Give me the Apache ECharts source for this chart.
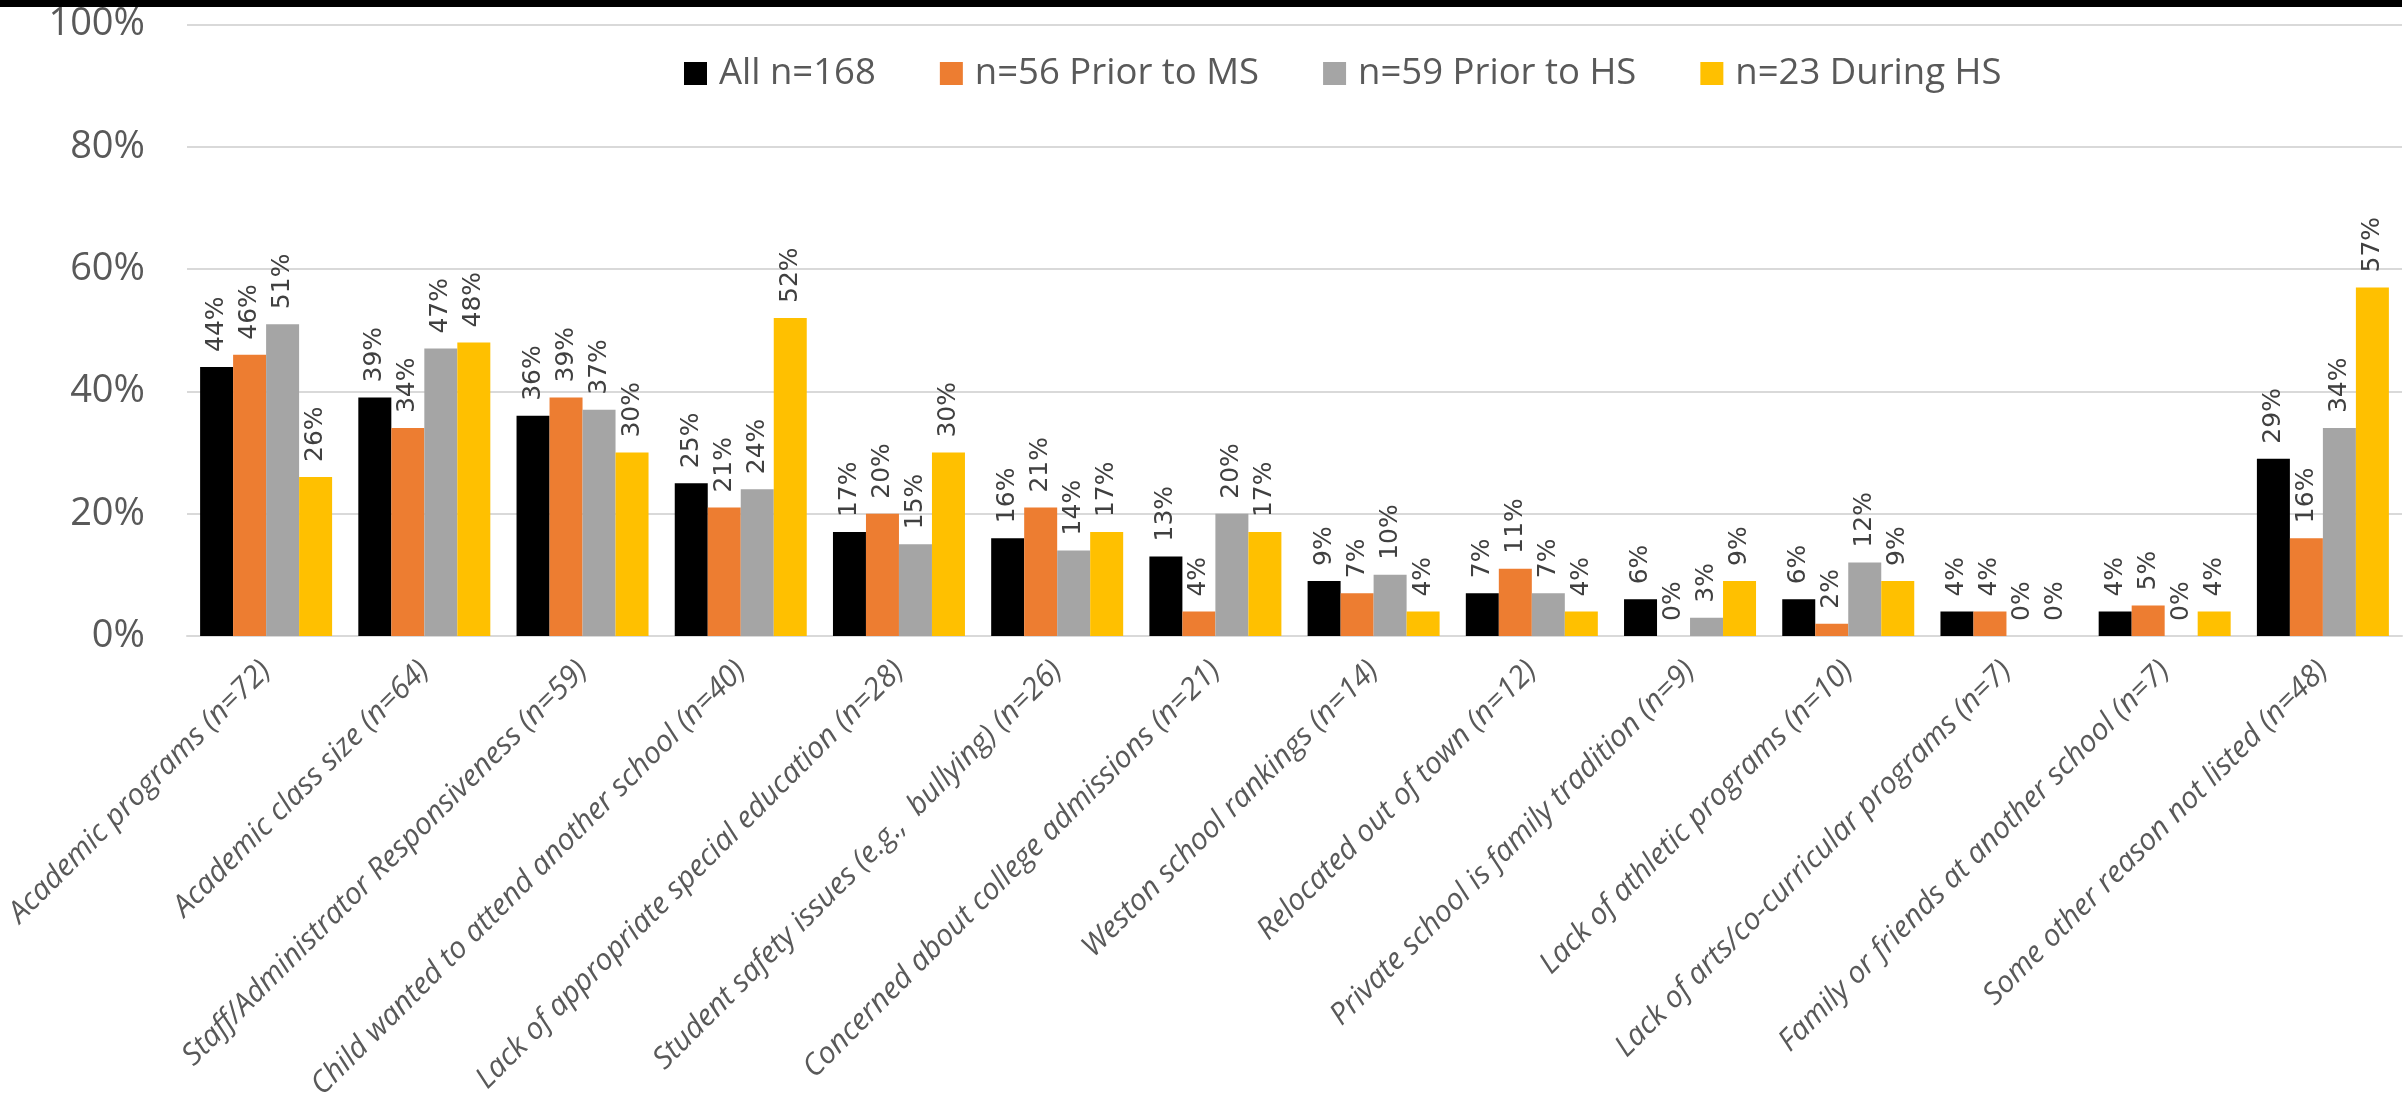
<!DOCTYPE html>
<html>
<head>
<meta charset="utf-8">
<script src="https://cdn.jsdelivr.net/npm/echarts@6/dist/echarts.min.js"></script>
<style>
html,body{margin:0;padding:0;background:#fff;}
#chart{width:2407px;height:1095px;}
</style>
</head>
<body>
<div id="chart"></div>
<script>
const categories = [
  "Academic programs (n=72)",
  "Academic class size (n=64)",
  "Staff/Administrator Responsiveness (n=59)",
  "Child wanted to attend another school (n=40)",
  "Lack of appropriate special education (n=28)",
  "Student safety issues (e.g.,  bullying) (n=26)",
  "Concerned about college admissions (n=21)",
  "Weston school rankings (n=14)",
  "Relocated out of town (n=12)",
  "Private school is family tradition (n=9)",
  "Lack of athletic programs (n=10)",
  "Lack of arts/co-curricular programs (n=7)",
  "Family or friends at another school (n=7)",
  "Some other reason not listed (n=48)"
];
const seriesNames = ["All n=168", "n=56 Prior to MS", "n=59 Prior to HS", "n=23 During HS"];
const allValues    = [44, 39, 36, 25, 17, 16, 13, 9, 7, 6, 6, 4, 4, 29];
const priorMS      = [46, 34, 39, 21, 20, 21, 4, 7, 11, 0, 2, 4, 5, 16];
const priorHS      = [51, 47, 37, 24, 15, 14, 20, 10, 7, 3, 12, 0, 0, 34];
const duringHS     = [26, 48, 30, 52, 30, 17, 17, 4, 4, 9, 9, 0, 4, 57];
const yTicks = [0, 20, 40, 60, 80, 100];

const colors = ["#000000", "#ED7D31", "#A5A5A5", "#FFC000"];
const dataSets = [allValues, priorMS, priorHS, duringHS];

const chart = echarts.init(document.getElementById('chart'), null, {renderer: 'canvas'});

const series = dataSets.map((d, i) => ({
  name: seriesNames[i],
  type: 'bar',
  data: d,
  barWidth: 33,
  barGap: '0%',
  itemStyle: {color: colors[i]},
  label: {
    show: true,
    position: 'top',
    distance: 15,
    rotate: 90,
    align: 'left',
    verticalAlign: 'middle',
    formatter: '{c}%',
    fontFamily: 'DejaVu Sans',
    fontSize: 25,
    color: '#404040'
  }
}));

chart.setOption({
  animation: false,
  backgroundColor: '#ffffff',
  color: colors,
  graphic: [{
    type: 'rect',
    shape: {x: 0, y: 0, width: 2402, height: 7},
    style: {fill: '#000000'},
    z: 100
  }],
  legend: {
    data: seriesNames,
    left: 679,
    top: 50,
    icon: 'rect',
    itemWidth: 23,
    itemHeight: 23,
    itemGap: 64,
    textStyle: {
      fontFamily: 'Open Sans',
      fontSize: 36.5,
      color: '#595959',
      lineHeight: 36,
      padding: [0, 0, 0, 7]
    }
  },
  grid: {
    left: 187, right: 5, top: 24.5, bottom: 459,
    containLabel: false,
    outerBoundsMode: 'none'
  },
  xAxis: {
    type: 'category',
    data: categories,
    axisLine: {show: true, lineStyle: {color: '#D9D9D9', width: 2}},
    axisTick: {show: false},
    axisLabel: {
      interval: 0,
      rotate: 45,
      margin: 30,
      hideOverlap: false,
      fontFamily: 'Open Sans',
      fontStyle: 'italic',
      fontSize: 30,
      color: '#595959'
    }
  },
  yAxis: {
    type: 'value',
    min: yTicks[0],
    max: yTicks[yTicks.length - 1],
    interval: 20,
    axisLine: {show: false},
    axisTick: {show: false},
    splitLine: {show: true, lineStyle: {color: '#D9D9D9', width: 2}},
    axisLabel: {
      formatter: '{value}%',
      margin: 42,
      fontFamily: 'Open Sans',
      fontSize: 38,
      color: '#595959'
    }
  },
  series: series
});
</script>
</body>
</html>
